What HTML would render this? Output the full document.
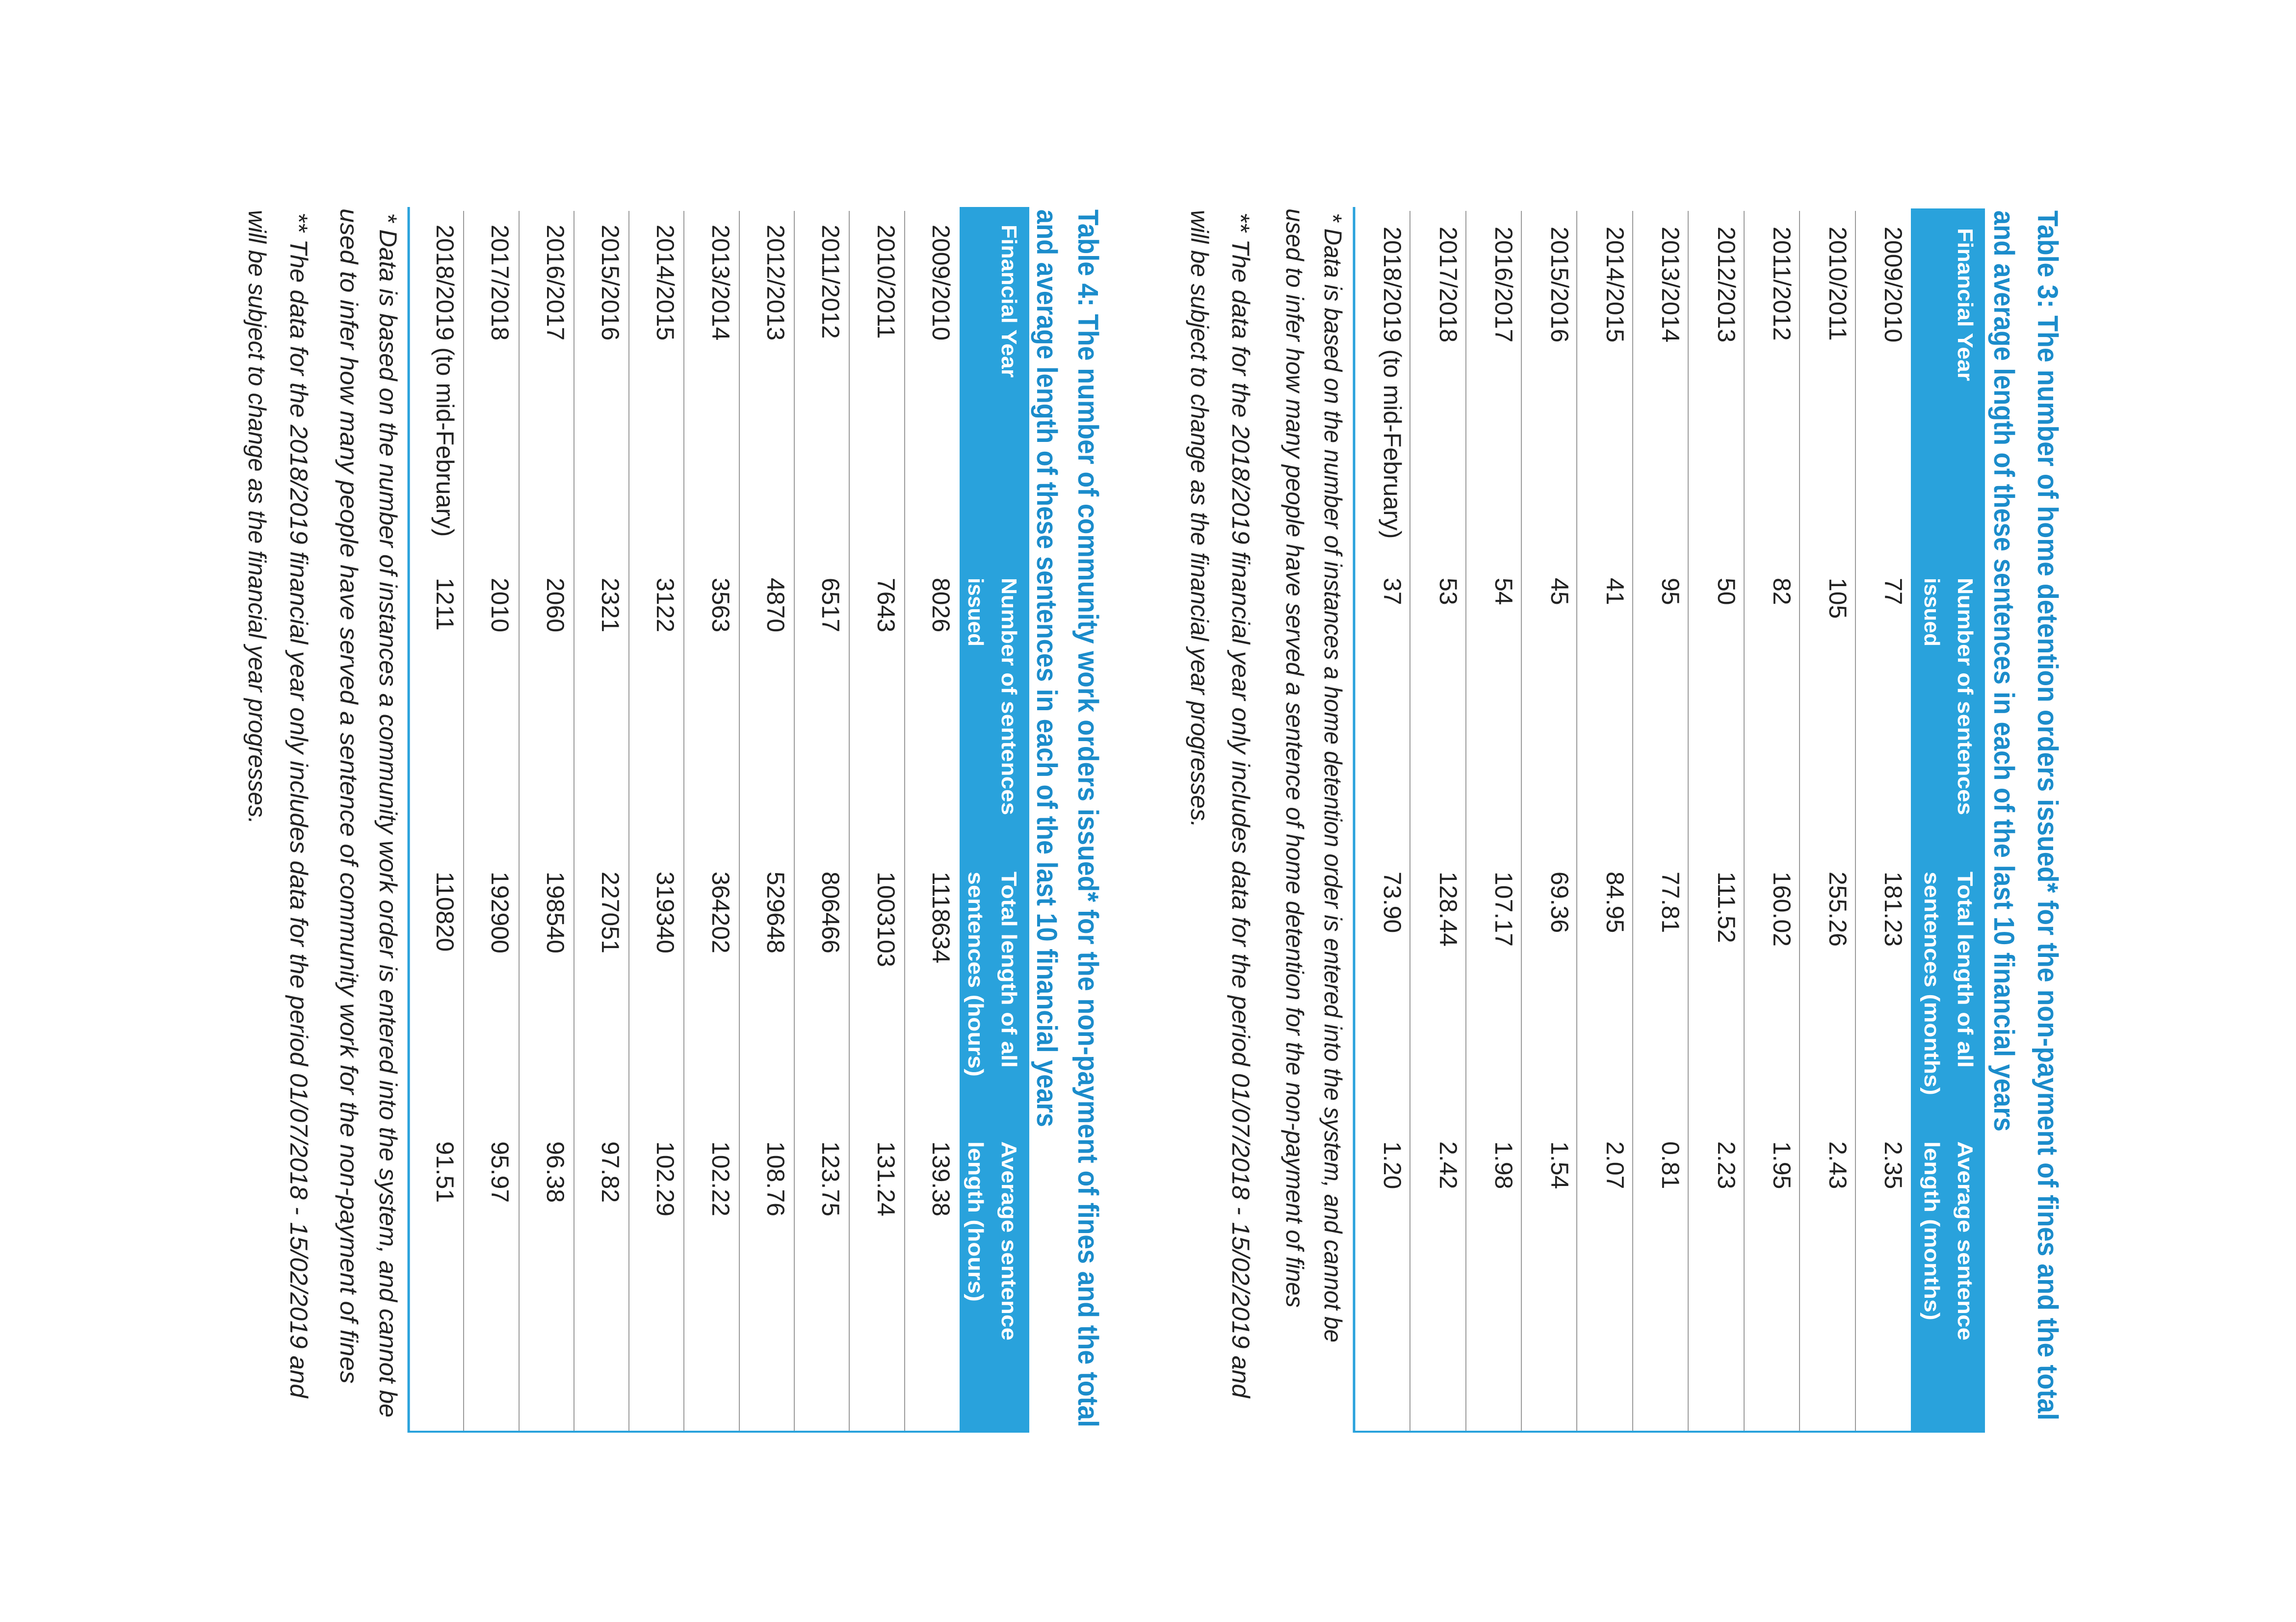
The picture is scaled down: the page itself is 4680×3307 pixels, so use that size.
<!DOCTYPE html>
<html><head><meta charset="utf-8"><style>
html,body{margin:0;padding:0;background:#fff;}
svg{display:block;}
.t{font-family:"Liberation Sans",sans-serif;font-weight:bold;font-size:58px;fill:#1b8ccb;}
.h{font-family:"Liberation Sans",sans-serif;font-weight:bold;font-size:44px;fill:#fff;}
.d{font-family:"Liberation Sans",sans-serif;font-size:50px;fill:#222;}
.f{font-family:"Liberation Sans",sans-serif;font-style:italic;font-size:50px;fill:#222;}
</style></head><body>
<svg width="4680" height="3307" viewBox="0 0 4680 3307" xmlns="http://www.w3.org/2000/svg">
<rect width="4680" height="3307" fill="#fff"/>
<g transform="translate(4680,0) rotate(90)">
<!-- TABLE 3 -->
<text class="t" x="429" y="526" textLength="2467" lengthAdjust="spacingAndGlyphs">Table 3: The number of home detention orders issued* for the non-payment of fines and the total</text>
<text class="t" x="429" y="615" textLength="1878" lengthAdjust="spacingAndGlyphs">and average length of these sentences in each of the last 10 financial years</text>
<rect x="425" y="634" width="2494" height="151" fill="#29a2dc"/>
<text class="h" x="465" y="689" textLength="312" lengthAdjust="spacingAndGlyphs">Financial Year</text>
<text class="h" x="1178" y="689" textLength="484" lengthAdjust="spacingAndGlyphs">Number of sentences</text>
<text class="h" x="1178" y="757" textLength="140" lengthAdjust="spacingAndGlyphs">issued</text>
<text class="h" x="1777" y="689" textLength="400" lengthAdjust="spacingAndGlyphs">Total length of all</text>
<text class="h" x="1777" y="757" textLength="456" lengthAdjust="spacingAndGlyphs">sentences (months)</text>
<text class="h" x="2327" y="689" textLength="406" lengthAdjust="spacingAndGlyphs">Average sentence</text>
<text class="h" x="2327" y="757" textLength="365" lengthAdjust="spacingAndGlyphs">length (months)</text>
<g stroke="#9a9a9a" stroke-width="2">
<line x1="430" x2="2917" y1="898" y2="898"/><line x1="430" x2="2917" y1="1012" y2="1012"/>
<line x1="430" x2="2917" y1="1125" y2="1125"/><line x1="430" x2="2917" y1="1239" y2="1239"/>
<line x1="430" x2="2917" y1="1352" y2="1352"/><line x1="430" x2="2917" y1="1466" y2="1466"/>
<line x1="430" x2="2917" y1="1579" y2="1579"/><line x1="430" x2="2917" y1="1692" y2="1692"/>
<line x1="430" x2="2917" y1="1806" y2="1806"/>
</g>
<line x1="422" x2="2921" y1="1920" y2="1920" stroke="#29a2dc" stroke-width="5"/>
<line x1="2919" x2="2919" y1="634" y2="1922" stroke="#29a2dc" stroke-width="4"/>
<g class="d">
<text x="462" y="838">2009/2010</text><text x="1178" y="838">77</text><text x="1777" y="838">181.23</text><text x="2327" y="838">2.35</text>
<text x="462" y="951">2010/2011</text><text x="1178" y="951">105</text><text x="1777" y="951">255.26</text><text x="2327" y="951">2.43</text>
<text x="462" y="1065">2011/2012</text><text x="1178" y="1065">82</text><text x="1777" y="1065">160.02</text><text x="2327" y="1065">1.95</text>
<text x="462" y="1178">2012/2013</text><text x="1178" y="1178">50</text><text x="1777" y="1178">111.52</text><text x="2327" y="1178">2.23</text>
<text x="462" y="1292">2013/2014</text><text x="1178" y="1292">95</text><text x="1777" y="1292">77.81</text><text x="2327" y="1292">0.81</text>
<text x="462" y="1405">2014/2015</text><text x="1178" y="1405">41</text><text x="1777" y="1405">84.95</text><text x="2327" y="1405">2.07</text>
<text x="462" y="1518">2015/2016</text><text x="1178" y="1518">45</text><text x="1777" y="1518">69.36</text><text x="2327" y="1518">1.54</text>
<text x="462" y="1632">2016/2017</text><text x="1178" y="1632">54</text><text x="1777" y="1632">107.17</text><text x="2327" y="1632">1.98</text>
<text x="462" y="1745">2017/2018</text><text x="1178" y="1745">53</text><text x="1777" y="1745">128.44</text><text x="2327" y="1745">2.42</text>
<text x="462" y="1859">2018/2019 (to mid-February)</text><text x="1178" y="1859">37</text><text x="1777" y="1859">73.90</text><text x="2327" y="1859">1.20</text>
</g>
<text class="f" x="434" y="1980" textLength="2303" lengthAdjust="spacingAndGlyphs">* Data is based on the number of instances a home detention order is entered into the system, and cannot be</text>
<text class="f" x="425" y="2058" textLength="2241" lengthAdjust="spacingAndGlyphs">used to infer how many people have served a sentence of home detention for the non-payment of fines</text>
<text class="f" x="433" y="2168" textLength="2417" lengthAdjust="spacingAndGlyphs">** The data for the 2018/2019 financial year only includes data for the period 01/07/2018 - 15/02/2019 and</text>
<text class="f" x="428" y="2252" textLength="1259" lengthAdjust="spacingAndGlyphs">will be subject to change as the financial year progresses.</text>

<!-- TABLE 4 -->
<text class="t" x="427" y="2482" textLength="2483" lengthAdjust="spacingAndGlyphs">Table 4: The number of community work orders issued* for the non-payment of fines and the total</text>
<text class="t" x="427" y="2566" textLength="1871" lengthAdjust="spacingAndGlyphs">and average length of these sentences in each of the last 10 financial years</text>
<rect x="422" y="2582" width="2497" height="142" fill="#29a2dc"/>
<text class="h" x="458" y="2638" textLength="312" lengthAdjust="spacingAndGlyphs">Financial Year</text>
<text class="h" x="1178" y="2638" textLength="484" lengthAdjust="spacingAndGlyphs">Number of sentences</text>
<text class="h" x="1178" y="2706" textLength="140" lengthAdjust="spacingAndGlyphs">issued</text>
<text class="h" x="1777" y="2638" textLength="400" lengthAdjust="spacingAndGlyphs">Total length of all</text>
<text class="h" x="1777" y="2706" textLength="418" lengthAdjust="spacingAndGlyphs">sentences (hours)</text>
<text class="h" x="2327" y="2638" textLength="406" lengthAdjust="spacingAndGlyphs">Average sentence</text>
<text class="h" x="2327" y="2706" textLength="327" lengthAdjust="spacingAndGlyphs">length (hours)</text>
<g stroke="#9a9a9a" stroke-width="2">
<line x1="430" x2="2917" y1="2836" y2="2836"/><line x1="430" x2="2917" y1="2949" y2="2949"/>
<line x1="430" x2="2917" y1="3061" y2="3061"/><line x1="430" x2="2917" y1="3173" y2="3173"/>
<line x1="430" x2="2917" y1="3286" y2="3286"/><line x1="430" x2="2917" y1="3398" y2="3398"/>
<line x1="430" x2="2917" y1="3510" y2="3510"/><line x1="430" x2="2917" y1="3622" y2="3622"/>
<line x1="430" x2="2917" y1="3735" y2="3735"/>
</g>
<line x1="422" x2="2921" y1="3847" y2="3847" stroke="#29a2dc" stroke-width="5"/>
<line x1="2919" x2="2919" y1="2582" y2="3849" stroke="#29a2dc" stroke-width="4"/>
<g class="d">
<text x="458" y="2779">2009/2010</text><text x="1178" y="2779">8026</text><text x="1777" y="2779">1118634</text><text x="2327" y="2779">139.38</text>
<text x="458" y="2891">2010/2011</text><text x="1178" y="2891">7643</text><text x="1777" y="2891">1003103</text><text x="2327" y="2891">131.24</text>
<text x="458" y="3004">2011/2012</text><text x="1178" y="3004">6517</text><text x="1777" y="3004">806466</text><text x="2327" y="3004">123.75</text>
<text x="458" y="3116">2012/2013</text><text x="1178" y="3116">4870</text><text x="1777" y="3116">529648</text><text x="2327" y="3116">108.76</text>
<text x="458" y="3228">2013/2014</text><text x="1178" y="3228">3563</text><text x="1777" y="3228">364202</text><text x="2327" y="3228">102.22</text>
<text x="458" y="3341">2014/2015</text><text x="1178" y="3341">3122</text><text x="1777" y="3341">319340</text><text x="2327" y="3341">102.29</text>
<text x="458" y="3453">2015/2016</text><text x="1178" y="3453">2321</text><text x="1777" y="3453">227051</text><text x="2327" y="3453">97.82</text>
<text x="458" y="3565">2016/2017</text><text x="1178" y="3565">2060</text><text x="1777" y="3565">198540</text><text x="2327" y="3565">96.38</text>
<text x="458" y="3678">2017/2018</text><text x="1178" y="3678">2010</text><text x="1777" y="3678">192900</text><text x="2327" y="3678">95.97</text>
<text x="458" y="3790">2018/2019 (to mid-February)</text><text x="1178" y="3790">1211</text><text x="1777" y="3790">110820</text><text x="2327" y="3790">91.51</text>
</g>
<text class="f" x="434" y="3906" textLength="2456" lengthAdjust="spacingAndGlyphs">* Data is based on the number of instances a community work order is entered into the system, and cannot be</text>
<text class="f" x="425" y="3986" textLength="2396" lengthAdjust="spacingAndGlyphs">used to infer how many people have served a sentence of community work for the non-payment of fines</text>
<text class="f" x="433" y="4088" textLength="2417" lengthAdjust="spacingAndGlyphs">** The data for the 2018/2019 financial year only includes data for the period 01/07/2018 - 15/02/2019 and</text>
<text class="f" x="428" y="4173" textLength="1252" lengthAdjust="spacingAndGlyphs">will be subject to change as the financial year progresses.</text>
</g>
</svg>
</body></html>
